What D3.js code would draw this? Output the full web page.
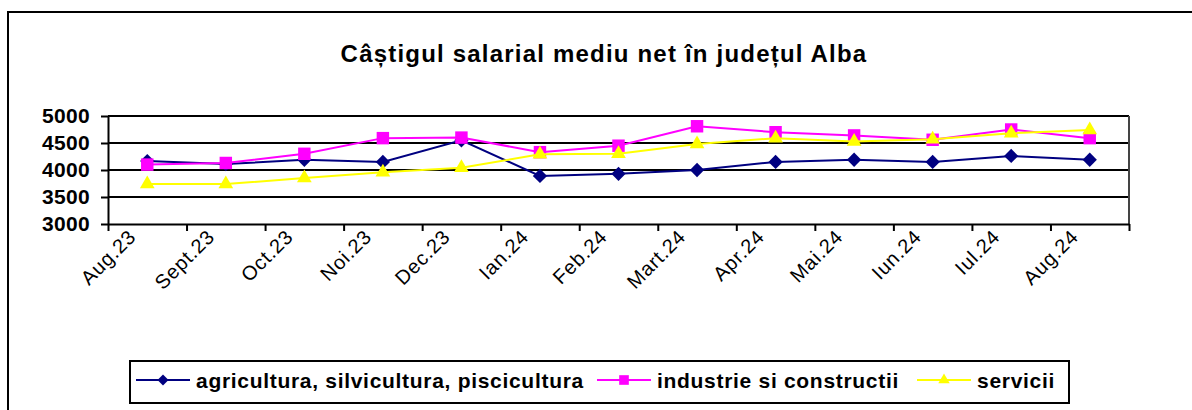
<!DOCTYPE html>
<html>
<head>
<meta charset="utf-8">
<script src="https://cdn.jsdelivr.net/npm/d3@7"></script>
<style>
  body { margin: 0; background: #fff; }
  svg { display: block; font-family: "Liberation Sans", Arial, sans-serif; }
</style>
</head>
<body>
<svg id="chart"></svg>
<script>
// Data
const months = ["Aug.23", "Sept.23", "Oct.23", "Noi.23", "Dec.23", "Ian.24", "Feb.24",
  "Mart.24", "Apr.24", "Mai.24", "Iun.24", "Iul.24", "Aug.24"];
const agricultura = [4165, 4110, 4190, 4150, 4550, 3890, 3930, 4000, 4150, 4190, 4150, 4260, 4190];
const industrie = [4100, 4130, 4300, 4590, 4600, 4330, 4450, 4810, 4700, 4640, 4560, 4750, 4590];
const servicii = [3740, 3740, 3850, 3960, 4040, 4290, 4300, 4480, 4590, 4530, 4570, 4680, 4740];
const yTicks = [3000, 3500, 4000, 4500, 5000];
const seriesNames = ["agricultura, silvicultura, piscicultura", "industrie si constructii", "servicii"];

const width = 1192;
const height = 410;
const plot = { left: 108, right: 1129, top: 116, bottom: 224 };

const svg = d3.select("#chart")
  .attr("width", width)
  .attr("height", height);

// outer frame (runs off the right and bottom edge)
svg.append("rect")
  .attr("x", 8).attr("y", 12)
  .attr("width", 1250).attr("height", 450)
  .attr("fill", "none").attr("stroke", "#000").attr("stroke-width", 2);

// title
svg.append("text")
  .attr("x", 604).attr("y", 62)
  .attr("text-anchor", "middle")
  .attr("font-size", 24).attr("font-weight", "bold")
  .attr("letter-spacing", 1.2)
  .text("Câștigul salarial mediu net în județul Alba");

// scales
const x = d3.scaleBand().domain(months).range([plot.left, plot.right]);
const xEdge = d3.scaleLinear().domain([0, months.length]).range([plot.left, plot.right]);
const y = d3.scaleLinear().domain([3000, 5000]).range([plot.bottom, plot.top]);
const cx = d => x(d) + x.bandwidth() / 2;

// gridlines
svg.append("g")
  .selectAll("line")
  .data(yTicks.filter(v => v > 3000))
  .join("line")
  .attr("x1", plot.left).attr("x2", plot.right)
  .attr("y1", d => y(d)).attr("y2", d => y(d))
  .attr("stroke", "#000").attr("stroke-width", 2);

// right border of plot area
svg.append("line")
  .attr("x1", plot.right).attr("x2", plot.right)
  .attr("y1", plot.top).attr("y2", plot.bottom)
  .attr("stroke", "#444").attr("stroke-width", 2);

// y axis
const yAxis = svg.append("g")
  .attr("transform", `translate(${plot.left},0)`)
  .call(d3.axisLeft(y).tickValues(yTicks).tickFormat(d3.format("d"))
    .tickSize(7).tickPadding(11).tickSizeOuter(0));
yAxis.select(".domain").attr("stroke-width", 2);
yAxis.selectAll(".tick line").attr("stroke-width", 2);
yAxis.selectAll("text")
  .attr("font-size", 21).attr("font-weight", "bold")
  .attr("letter-spacing", 0.3)
  .attr("font-family", "Liberation Sans, Arial, sans-serif")
  .attr("fill", "#000");

// x axis: ticks on category boundaries
const xAxis = svg.append("g")
  .attr("transform", `translate(0,${plot.bottom})`)
  .call(d3.axisBottom(xEdge).tickValues(d3.range(months.length + 1)).tickFormat("").tickSize(7).tickSizeOuter(0));
xAxis.select(".domain").attr("stroke-width", 2);
xAxis.selectAll(".tick line").attr("stroke-width", 2);

svg.append("g")
  .selectAll("text")
  .data(months)
  .join("text")
  .attr("transform", d => `translate(${cx(d) - 10},${plot.bottom + 14}) rotate(-45)`)
  .attr("text-anchor", "end")
  .attr("font-size", 20)
  .attr("letter-spacing", 0.8)
  .text(d => d);

// markers
const diamond = d3.symbol().type(d3.symbolDiamond2);
const square = d3.symbol().type(d3.symbolSquare);
const triangle = d3.symbol().type(d3.symbolTriangle2);

const series = [
  { name: seriesNames[0], values: agricultura, color: "#000080", symbol: diamond, size: 130 },
  { name: seriesNames[1], values: industrie, color: "#FF00FF", symbol: square, size: 155 },
  { name: seriesNames[2], values: servicii, color: "#FFFF00", symbol: triangle, size: 155 }
];

const line = d3.line()
  .x((d, i) => cx(months[i]))
  .y(d => y(d));

series.forEach(s => {
  const g = svg.append("g");
  g.append("path")
    .attr("d", line(s.values))
    .attr("fill", "none")
    .attr("stroke", s.color)
    .attr("stroke-width", 2);
  g.selectAll("path.m")
    .data(s.values)
    .join("path")
    .attr("class", "m")
    .attr("transform", (d, i) => `translate(${cx(months[i])},${y(d)})`)
    .attr("d", s.symbol.size(s.size)())
    .attr("fill", s.color);
});

// legend
const legend = svg.append("g");
legend.append("rect")
  .attr("x", 130).attr("y", 361)
  .attr("width", 939).attr("height", 42)
  .attr("fill", "#fff").attr("stroke", "#000").attr("stroke-width", 2);

const legendX = [136, 597, 917];
series.forEach((s, i) => {
  const lx = legendX[i];
  legend.append("line")
    .attr("x1", lx).attr("x2", lx + 54)
    .attr("y1", 380).attr("y2", 380)
    .attr("stroke", s.color).attr("stroke-width", 2);
  legend.append("path")
    .attr("transform", `translate(${lx + 27},380)`)
    .attr("d", s.symbol.size(s.size * 0.6)())
    .attr("fill", s.color);
  legend.append("text")
    .attr("x", lx + 60).attr("y", 388)
    .attr("font-size", 21).attr("font-weight", "bold")
    .attr("letter-spacing", 0.7)
    .text(s.name);
});
</script>
</body>
</html>
